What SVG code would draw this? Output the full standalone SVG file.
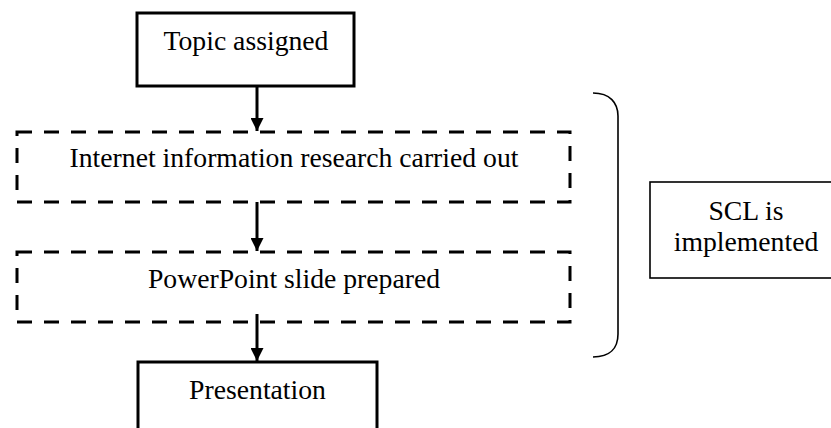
<svg xmlns="http://www.w3.org/2000/svg" width="831" height="428" viewBox="0 0 831 428">
<style>
  text { font-family: "Liberation Serif", "Times New Roman", serif; font-size: 27.7px; fill: #000; text-anchor: middle; }
  .solid { fill: #fff; stroke: #000; stroke-width: 3; }
  .dashed { fill: none; stroke: #000; stroke-width: 3; stroke-dasharray: 15 12; }
  .thin { fill: #fff; stroke: #000; stroke-width: 1.6; }
  .conn { stroke: #000; stroke-width: 3; fill: none; }
  .brace { stroke: #000; stroke-width: 1.6; fill: none; }
</style>
<defs>
  <marker id="arrow" markerWidth="15" markerHeight="13" refX="15" refY="7.5" viewBox="0 0 15 15" markerUnits="userSpaceOnUse" orient="auto">
    <path d="M0,0 L15,7.5 L0,15 Z" fill="#000"/>
  </marker>
</defs>
<rect width="831" height="428" fill="#fff"/>

<g id="topic">
  <rect class="solid" x="137" y="13" width="217" height="73"/>
  <text x="246" y="50">Topic assigned</text>
</g>

<g id="research">
  <rect class="dashed" x="17" y="132" width="553" height="70"/>
  <text x="294" y="167">Internet information research carried out</text>
</g>

<g id="slide">
  <rect class="dashed" x="17" y="252" width="553" height="70"/>
  <text x="294" y="288">PowerPoint slide prepared</text>
</g>

<g id="presentation">
  <rect class="solid" x="138" y="362" width="239" height="90"/>
  <text x="257.5" y="399">Presentation</text>
</g>

<g id="scl">
  <rect class="thin" x="650" y="182" width="192" height="96"/>
  <text x="746" y="220">SCL is</text>
  <text x="746" y="251">implemented</text>
</g>

<g id="bracket">
  <path class="brace" d="M593,93 C610,93 618,103 618,116 V334 C618,348 610,357 593,357"/>
</g>

<g id="connectors">
  <line class="conn" x1="257" y1="86" x2="257" y2="131" marker-end="url(#arrow)"/>
  <line class="conn" x1="257" y1="202" x2="257" y2="251" marker-end="url(#arrow)"/>
  <line class="conn" x1="257" y1="314" x2="257" y2="361" marker-end="url(#arrow)"/>
</g>
</svg>
